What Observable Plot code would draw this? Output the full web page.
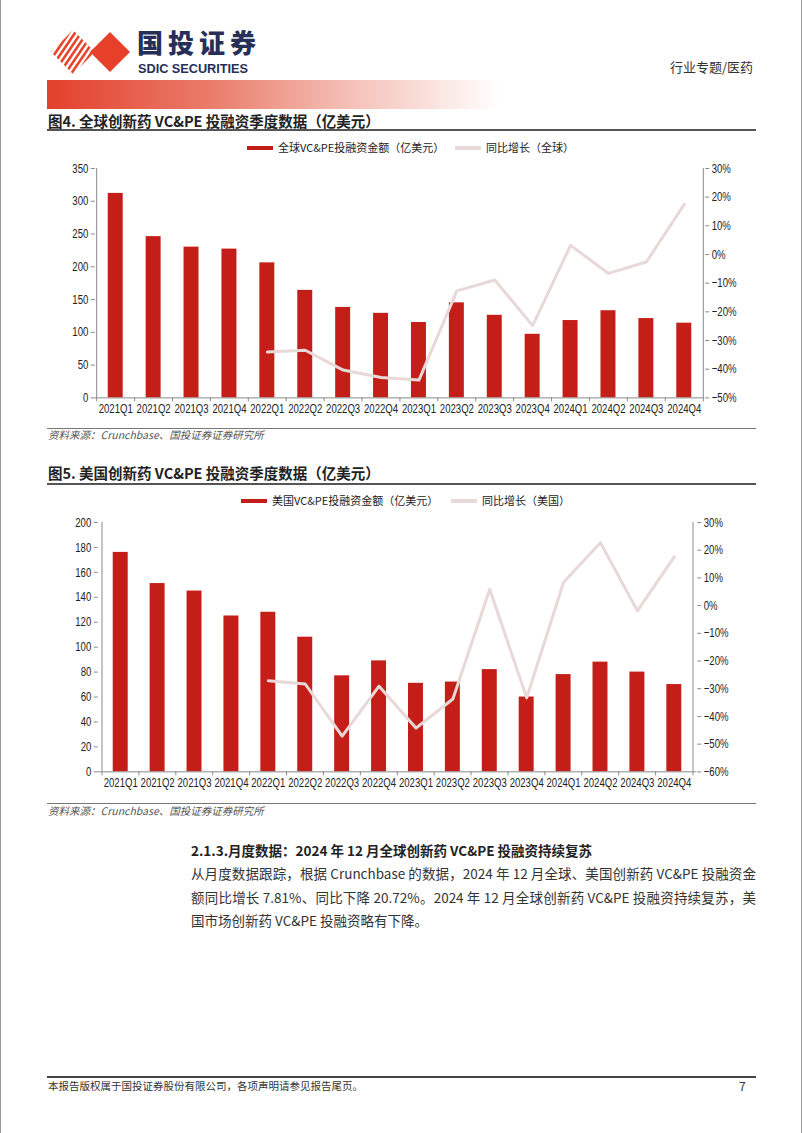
<!DOCTYPE html>
<html><head><meta charset="utf-8">
<script src="https://cdn.jsdelivr.net/npm/d3@7"></script>
<script src="https://cdn.jsdelivr.net/npm/@observablehq/plot@0.6"></script>
<style>
html,body{margin:0;padding:0;background:#fff;}
#page{position:relative;width:802px;height:1133px;overflow:hidden;font-family:"Noto Sans CJK SC","Noto Sans",sans-serif;color:#222;box-sizing:border-box;border-left:1px solid #9a9a9a;border-right:1px solid #9a9a9a;}
.abs{position:absolute;white-space:nowrap;}
.title{font-size:14.5px;font-weight:700;color:#222;line-height:1;}
.rule{position:absolute;left:46px;width:709px;}
.src{font-size:10.5px;font-style:italic;color:#555;line-height:1;}
.leg{font-size:11px;line-height:1;color:#222;}
.sw{position:absolute;height:4px;}
.para{position:absolute;left:190px;width:565px;font-size:13.5px;line-height:1;color:#333;text-align:justify;text-align-last:justify;white-space:nowrap;}
.chart{position:absolute;left:0;}
</style></head>
<body><div id="page">
<svg class="abs" style="left:44px;top:30px" width="90" height="44" viewBox="0 0 90 44">
  <defs><clipPath id="cp"><polygon points="28,0 50,22 28,44 6,22"/></clipPath></defs>
  <g clip-path="url(#cp)" stroke="#e8452c" stroke-width="2.6">
    <line x1="-10" y1="44" x2="20" y2="0"/><line x1="-4" y1="44" x2="26" y2="0"/>
    <line x1="2" y1="44" x2="32" y2="0"/><line x1="8" y1="44" x2="38" y2="0"/>
    <line x1="14" y1="44" x2="44" y2="0"/><line x1="20" y1="44" x2="50" y2="0"/>
    <line x1="26" y1="44" x2="56" y2="0"/><line x1="32" y1="44" x2="62" y2="0"/>
  </g>
  <polygon points="65,2 85,22 65,42 45,22" fill="#e6402a"/>
</svg>
<div class="abs" style="left:136px;top:29px;font-size:26px;font-weight:900;color:#262f57;letter-spacing:5px;line-height:26px;height:26px;">国投证券</div>
<div class="abs" style="left:137px;top:62px;font-size:13.5px;font-weight:700;color:#262f57;line-height:1;font-family:'Liberation Sans',Arial,sans-serif;transform:scaleX(0.94);transform-origin:left top;">SDIC SECURITIES</div>
<div class="abs" style="left:669px;top:60px;font-size:13px;color:#333;line-height:1;">行业专题/医药</div>
<div class="abs" style="left:46px;top:80px;width:452px;height:29px;background:linear-gradient(to right,#e2402c 0%,#ea7a68 35%,#f4bcb2 65%,#ffffff 100%);"></div>

<div class="abs title" style="left:47px;top:114px;">图4. 全球创新药 VC&amp;PE 投融资季度数据（亿美元）</div>
<div class="rule" style="top:129px;height:1.5px;background:#555;"></div>
<div id="leg1"></div>
<div id="chart1" class="chart" style="top:158px;"></div>
<div class="rule" style="top:428px;height:1px;background:#777;"></div>
<div class="abs src" style="left:47px;top:430px;">资料来源：Crunchbase、国投证券证券研究所</div>

<div class="abs title" style="left:47px;top:466px;">图5. 美国创新药 VC&amp;PE 投融资季度数据（亿美元）</div>
<div class="rule" style="top:483px;height:1.5px;background:#555;"></div>
<div id="leg2"></div>
<div id="chart2" class="chart" style="top:512px;"></div>
<div class="rule" style="top:803px;height:1px;background:#777;"></div>
<div class="abs src" style="left:47px;top:806px;">资料来源：Crunchbase、国投证券证券研究所</div>

<div class="abs" style="left:190px;top:844px;font-size:13.5px;font-weight:700;line-height:1;color:#222;">2.1.3.月度数据：2024 年 12 月全球创新药 VC&amp;PE 投融资持续复苏</div>
<div class="para" style="top:867px;">从月度数据跟踪，根据 Crunchbase 的数据，2024 年 12 月全球、美国创新药 VC&amp;PE 投融资金</div>
<div class="para" style="top:891px;">额同比增长 7.81%、同比下降 20.72%。2024 年 12 月全球创新药 VC&amp;PE 投融资持续复苏，美</div>
<div class="para" style="top:914px;text-align:left;text-align-last:left;">国市场创新药 VC&amp;PE 投融资略有下降。</div>

<div class="rule" style="top:1076px;height:2px;background:#444;"></div>
<div class="abs src" style="left:47px;top:1081px;font-style:normal;color:#333;">本报告版权属于国投证券股份有限公司，各项声明请参见报告尾页。</div>
<div class="abs" style="left:738px;top:1080px;font-size:12px;color:#333;line-height:1;">7</div>
</div>
<script>
const quarters = ["2021Q1","2021Q2","2021Q3","2021Q4","2022Q1","2022Q2","2022Q3","2022Q4","2023Q1","2023Q2","2023Q3","2023Q4","2024Q1","2024Q2","2024Q3","2024Q4"];
const globalAmount = [312,246,230,227,206,164,138,129,115,145,126,97,118,133,121,114];
const globalYoY = [null,null,null,null,-34.0,-33.4,-40.3,-42.9,-43.8,-12.7,-8.9,-24.8,3.2,-6.6,-2.6,17.5];
const usAmount = [176,151,145,125,128,108,77,89,71,72,82,60,78,88,80,70];
const usYoY = [null,null,null,null,-27.1,-28.3,-47.1,-29.1,-44.2,-33.7,5.9,-33.3,8.4,22.7,-1.9,17.6];
const leftTicks1 = [0,50,100,150,200,250,300,350];
const rightTicks1 = [-50,-40,-30,-20,-10,0,10,20,30];
const leftTicks2 = [0,20,40,60,80,100,120,140,160,180,200];
const rightTicks2 = [-60,-50,-40,-30,-20,-10,0,10,20,30];
const legend1 = ["全球VC&PE投融资金额（亿美元）","同比增长（全球）"];
const legend2 = ["美国VC&PE投融资金额（亿美元）","同比增长（美国）"];

const BAR = "#c41e18", LINE = "#e8d8d8", AXIS = "#8a8a8a";
const tickFont = "'Liberation Sans',Arial,sans-serif";

function makeChart({amount, yoy, leftTicks, rightTicks, ml, mr, mt, mb, h}) {
  const W = 802;
  const yMax = leftTicks[leftTicks.length-1];
  const pMin = rightTicks[0], pMax = rightTicks[rightTicks.length-1];
  const toLeft = p => (p - pMin) / (pMax - pMin) * yMax;
  const fromLeft = v => Math.round(v / yMax * (pMax - pMin) + pMin);
  const step = (W - ml - mr) / quarters.length;
  const plotH = h - mt - mb;
  const tickUnits = 4 / plotH * yMax;
  const data = quarters.map((q,i) => ({q, amount: amount[i], yoy: yoy[i]}));
  const lineData = data.filter(d => d.yoy != null);
  const pctFmt = v => { const p = fromLeft(v); return (p < 0 ? "\u2212" + (-p) : p) + "%"; };
  const svg = Plot.plot({
    width: W, height: h, marginLeft: ml, marginRight: mr, marginTop: mt, marginBottom: mb,
    style: {fontFamily: tickFont, fontSize: "13px", color: "#222", background: "transparent", overflow: "visible"},
    x: {type: "band", domain: quarters, paddingInner: 0.6, paddingOuter: 0.3, axis: null},
    y: {domain: [0, yMax], axis: null},
    marks: [
      Plot.barY(data, {x: "q", y: "amount", fill: BAR}),
      Plot.line(lineData, {x: "q", y: d => toLeft(d.yoy), stroke: LINE, strokeWidth: 3}),
      Plot.ruleY([0], {stroke: AXIS}),
      Plot.ruleX([quarters[0]], {dx: -step/2, stroke: AXIS}),
      Plot.ruleX([quarters[quarters.length-1]], {dx: step/2, stroke: AXIS}),
      Plot.ruleX(quarters, {dx: -step/2, y1: 0, y2: -tickUnits, stroke: AXIS}),
      Plot.ruleX([quarters[quarters.length-1]], {dx: step/2, y1: 0, y2: -tickUnits, stroke: AXIS}),
      Plot.axisY(leftTicks, {anchor: "left", label: null, tickSize: 4, tickPadding: 3, stroke: AXIS, fill: "#222"}),
      Plot.axisY(rightTicks.map(toLeft), {anchor: "right", label: null, tickSize: 4, tickPadding: 3, stroke: AXIS, fill: "#222", tickFormat: pctFmt}),
      Plot.axisX(quarters, {anchor: "bottom", label: null, tickSize: 0, tickPadding: 6, fill: "#222", lineWidth: Infinity, textOverflow: null})
    ]
  });
  // condensed look of the tick labels (like Arial Narrow in the reference)
  svg.querySelectorAll("g[aria-label$='tick label'] text").forEach(t => {
    t.setAttribute("transform", (t.getAttribute("transform") || "") + " scale(0.74,1)");
  });
  return svg;
}

function makeLegend(container, labels, top, x1, x2) {
  const el = document.getElementById(container);
  const parts = [[x1, BAR, labels[0]], [x2, LINE, labels[1]]];
  for (const [x, c, t] of parts) {
    const sw = document.createElement("div");
    sw.className = "sw"; sw.style.left = x + "px"; sw.style.top = (top - 2) + "px"; sw.style.width = "26px"; sw.style.background = c;
    el.appendChild(sw);
    const tx = document.createElement("div");
    tx.className = "abs leg"; tx.style.left = (x + 31) + "px"; tx.style.top = (top - 6) + "px"; tx.textContent = t;
    el.appendChild(tx);
  }
}

document.getElementById("chart1").appendChild(makeChart({amount: globalAmount, yoy: globalYoY, leftTicks: leftTicks1, rightTicks: rightTicks1, ml: 94, mr: 97, mt: 10, mb: 30, h: 270}));
document.getElementById("chart2").appendChild(makeChart({amount: usAmount, yoy: usYoY, leftTicks: leftTicks2, rightTicks: rightTicks2, ml: 97, mr: 105, mt: 10, mb: 30, h: 290}));
makeLegend("leg1", legend1, 148, 246, 454);
makeLegend("leg2", legend2, 501, 240, 450);
</script>
</body></html>
